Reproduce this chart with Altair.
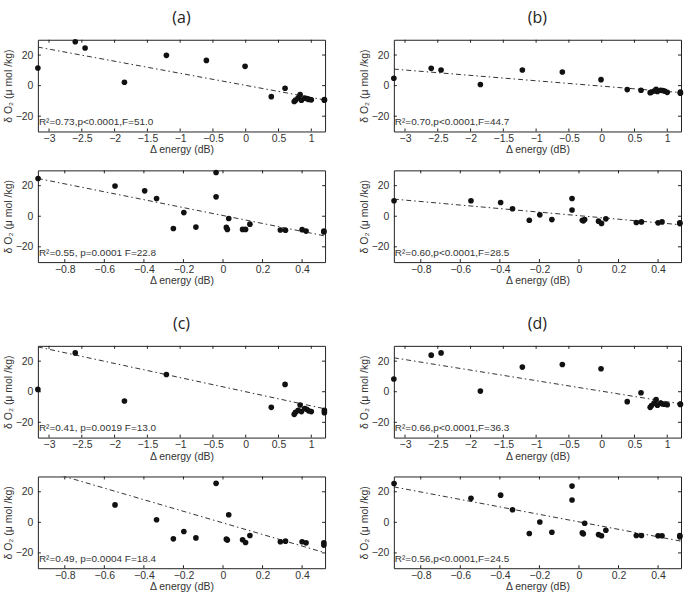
import altair as alt
import pandas as pd

# ---------------- data ----------------
top_x = [-3.17, -2.6, -2.45, -1.85, -1.21, -0.6, -0.01, 0.39, 0.6, 0.74, 0.76,
         0.8, 0.83, 0.85, 0.9, 0.93, 0.96, 1.0, 1.2, 1.2]
bot_x = [-0.935, -0.546, -0.396, -0.336, -0.251, -0.198, -0.137, -0.035, -0.035,
         0.017, 0.022, 0.029, 0.099, 0.114, 0.136, 0.29, 0.316, 0.40, 0.42, 0.51, 0.51]

a_top_y = [11.5, 28.7, 24.6, 2.2, 19.8, 16.5, 12.6, -7.2, -1.7, -10.4, -9.5,
           -8.0, -5.9, -9.5, -8.2, -8.5, -9.0, -9.3, -9.1, -9.6]
b_top_y = [4.8, 11.3, 10.2, 0.7, 10.2, 8.9, 3.9, -2.6, -3.0, -4.6, -4.2,
           -3.5, -2.5, -3.8, -3.0, -3.2, -3.6, -4.4, -4.3, -5.0]
c_top_y = [1.5, 25.4, None, -6.1, 11.3, None, None, -10.2, 4.8, -14.8, -13.5,
           -12.2, -8.7, -13.0, -11.0, -11.5, -12.5, -13.0, -12.2, -13.7]
d_top_y = [8.3, 23.9, 25.4, 0.4, 16.1, 17.8, 15.0, -6.5, -0.7, -10.2, -9.0,
           -7.5, -5.2, -8.8, -7.5, -8.0, -8.2, -8.5, -8.3, -8.0]

a_bot_y = [24.7, 19.8, 16.6, 11.6, -8.0, 2.4, -7.1, 28.6, 12.7, -7.3, -8.6,
           -1.5, -8.6, -8.6, -5.2, -9.0, -9.2, -8.8, -9.7, -9.7, -10.3]
b_bot_y = [10.1, 10.1, 9.0, 4.9, -2.6, 0.9, -2.2, 11.6, 4.1, -2.6, -3.0,
           -2.2, -3.2, -4.7, -1.7, -4.1, -3.7, -4.3, -3.7, -4.3, -4.8]
c_bot_y = [None, 11.4, None, 1.7, -10.8, -6.0, -10.2, 25.5, None, -11.0, -11.6,
           5.0, -11.4, -13.2, -8.6, -12.7, -12.3, -12.7, -13.4, -14.9, -13.4]
d_bot_y = [25.4, 15.7, 17.8, 8.2, -7.3, 0.2, -6.5, 23.7, 14.6, -6.9, -7.5,
           -0.6, -8.0, -8.8, -5.2, -8.6, -8.6, -8.8, -8.8, -9.5, -8.6]

# fitted-line end values (at the left and right ends of the x range)
a_top_line = [25.2, -9.4]
b_top_line = [10.8, -4.6]
c_top_line = [29.3, -11.2]
d_top_line = [22.2, -8.0]
a_bot_line = [24.7, -12.9]
b_bot_line = [11.2, -5.6]
c_bot_line = [35.1, -19.9]
d_bot_line = [23.2, -12.3]

notes = {
    "a_top": "R²=0.73,p<0.0001,F=51.0",
    "a_bot": "R²=0.55, p=0.0001 F=22.8",
    "b_top": "R²=0.70,p<0.0001,F=44.7",
    "b_bot": "R²=0.60,p<0.0001,F=28.5",
    "c_top": "R²=0.41, p=0.0019 F=13.0",
    "c_bot": "R²=0.49, p=0.0004 F=18.4",
    "d_top": "R²=0.66,p<0.0001,F=36.3",
    "d_bot": "R²=0.56,p<0.0001,F=24.5",
}
panel_titles = ["(a)", "(b)", "(c)", "(d)"]

top_domain = [-3.17, 1.21]
bot_domain = [-0.936, 0.516]
y_domain = [-30, 30]
top_ticks = [-3, -2.5, -2, -1.5, -1, -0.5, 0, 0.5, 1]
bot_ticks = [-0.8, -0.6, -0.4, -0.2, 0, 0.2, 0.4]
y_ticks = [-20, 0, 20]
note_y = -24

W, H = 288, 92
TXT = "#333333"
FONT = "Liberation Sans"


def panel(xs, ys, xdom, xticks, line_y, note, title=None):
    xsc = alt.Scale(domain=xdom, nice=False, zero=False)
    ysc = alt.Scale(domain=y_domain, nice=False, zero=False)
    xax = alt.Axis(values=xticks, title="Δ energy (dB)", format="~r")
    yax = alt.Axis(values=y_ticks, title="δ O₂ (μ mol /kg)", format="~r")

    def X():
        return alt.X("x:Q", scale=xsc, axis=xax)

    def Y():
        return alt.Y("y:Q", scale=ysc, axis=yax)

    pts = pd.DataFrame({"x": xs, "y": ys}).dropna()
    points = alt.Chart(pts).mark_circle(size=32, color="#111111", opacity=1).encode(x=X(), y=Y())

    ldf = pd.DataFrame({"x": xdom, "y": line_y})
    line = alt.Chart(ldf).mark_line(
        clip=True, color="#333333", strokeWidth=1, strokeDash=[5, 3, 1.5, 3]
    ).encode(x=X(), y=Y())

    xt = pd.DataFrame({"x": xticks})
    yt = pd.DataFrame({"y": y_ticks})
    tk = dict(color="#222222", strokeWidth=1)
    xb = alt.Chart(xt).mark_rule(**tk).encode(x=X(), y=alt.value(H), y2=alt.value(H - 3))
    xtp = alt.Chart(xt).mark_rule(**tk).encode(x=X(), y=alt.value(0), y2=alt.value(3))
    yl = alt.Chart(yt).mark_rule(**tk).encode(y=Y(), x=alt.value(0), x2=alt.value(3))
    yr = alt.Chart(yt).mark_rule(**tk).encode(y=Y(), x=alt.value(W), x2=alt.value(W - 3))

    ndf = pd.DataFrame({"x": [xdom[0]], "y": [note_y], "t": [note]})
    txt = alt.Chart(ndf).mark_text(
        align="left", baseline="middle", dx=1, fontSize=10, font=FONT, color=TXT
    ).encode(x=X(), y=Y(), text="t:N")

    props = dict(width=W, height=H)
    if title:
        props["title"] = alt.TitleParams(
            text=title, fontSize=16, font="Open Sans", fontWeight="normal",
            anchor="middle", offset=13, color="#222222"
        )
    return alt.layer(line, xb, xtp, yl, yr, points, txt).properties(**props)


def column(key, title, top_y, bot_y, top_line, bot_line):
    t = panel(top_x, top_y, top_domain, top_ticks, top_line, notes[key + "_top"], title)
    b = panel(bot_x, bot_y, bot_domain, bot_ticks, bot_line, notes[key + "_bot"])
    return alt.vconcat(t, b, spacing=39, bounds="flush")


col_a = column("a", panel_titles[0], a_top_y, a_bot_y, a_top_line, a_bot_line)
col_b = column("b", panel_titles[1], b_top_y, b_bot_y, b_top_line, b_bot_line)
col_c = column("c", panel_titles[2], c_top_y, c_bot_y, c_top_line, c_bot_line)
col_d = column("d", panel_titles[3], d_top_y, d_bot_y, d_top_line, d_bot_line)

row1 = alt.hconcat(col_a, col_b, spacing=30)
row2 = alt.hconcat(col_c, col_d, spacing=30)

chart = alt.vconcat(row1, row2, spacing=29).properties(
    padding={"left": 2, "top": 8, "right": 0, "bottom": 0},
    background="white",
).configure_view(
    stroke="#222222", strokeWidth=1
).configure_axis(
    ticks=False, domain=False, grid=False,
    labelFont=FONT, labelFontSize=10.5, labelColor=TXT,
    titleFont=FONT, titleFontSize=10.5, titleFontWeight="normal", titleColor=TXT,
    labelOverlap=False, labelFlush=False,
).configure_axisX(
    labelPadding=2, titlePadding=1
).configure_axisY(
    labelPadding=5, titlePadding=2
)

chart.save("out.html", embed_options={"renderer": "svg", "actions": False})
